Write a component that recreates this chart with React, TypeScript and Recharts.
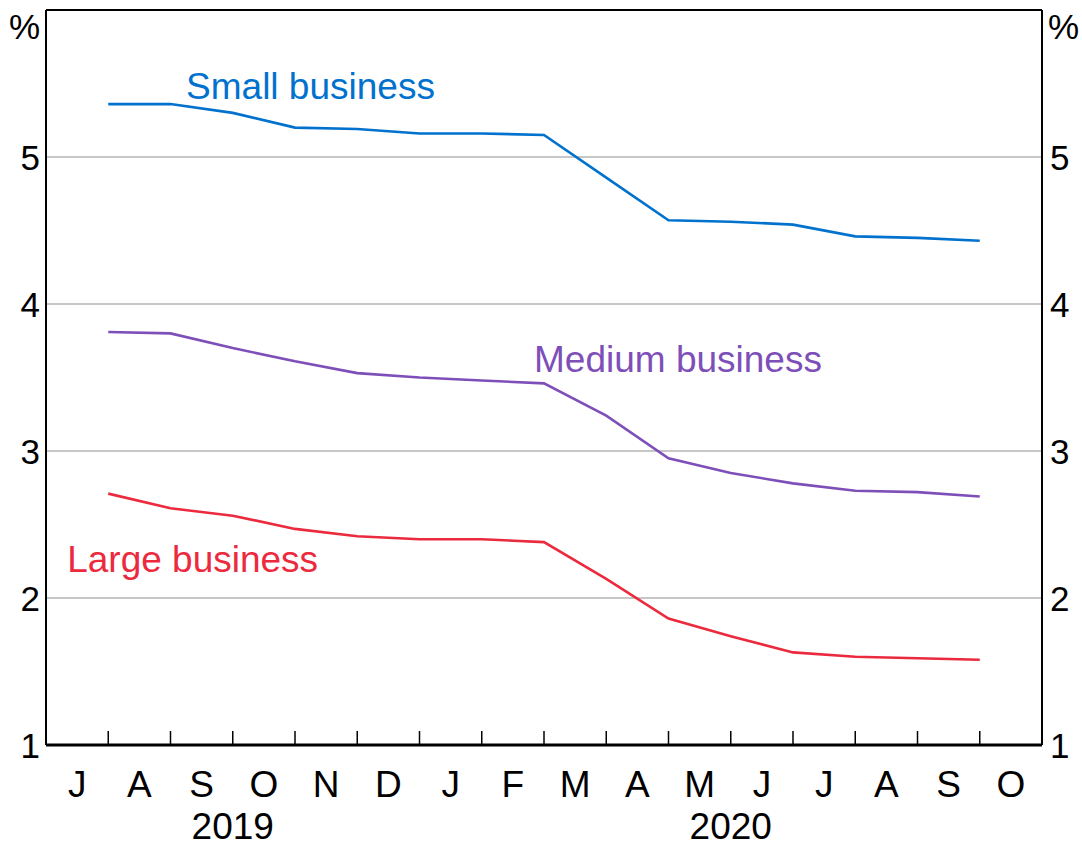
import React from 'react';
import { LineChart, Line, XAxis, YAxis, CartesianGrid, ReferenceLine, ReferenceDot } from 'recharts';

const monthLabels = ['J', 'A', 'S', 'O', 'N', 'D', 'J', 'F', 'M', 'A', 'M', 'J', 'J', 'A', 'S', 'O'];
const yearLabels = ['2019', '2020'];
const yearTickAt = [3, 11];
const pointPositions = [1, 2, 3, 4, 5, 6, 7, 8, 9, 10, 11, 12, 13, 14, 15];
const smallBusiness = [5.36, 5.36, 5.3, 5.2, 5.19, 5.16, 5.16, 5.15, 4.86, 4.57, 4.56, 4.54, 4.46, 4.45, 4.43];
const mediumBusiness = [3.81, 3.8, 3.7, 3.61, 3.53, 3.5, 3.48, 3.46, 3.24, 2.95, 2.85, 2.78, 2.73, 2.72, 2.69];
const largeBusiness = [2.71, 2.61, 2.56, 2.47, 2.42, 2.4, 2.4, 2.38, 2.13, 1.86, 1.74, 1.63, 1.6, 1.59, 1.58];
const yTicks = [1, 2, 3, 4, 5];
const seriesNames = ['Small business', 'Medium business', 'Large business'];
const seriesColors = ['#0072CE', '#7E4FB8', '#EC2A3E'];
const labelAtX = [2.25, 7.84, 0.34];
const labelAtY = [5.395, 3.537, 2.177];

const FONT = '"Liberation Sans", Arial, sans-serif';

const data = pointPositions.map((p, i) => ({
  x: p,
  small: smallBusiness[i],
  medium: mediumBusiness[i],
  large: largeBusiness[i],
}));

const xTickValues: number[] = [];
for (let i = 0; i <= monthLabels.length; i++) {
  xTickValues.push(i);
  if (i < monthLabels.length) xTickValues.push(i + 0.5);
}

const XTick = (props: any) => {
  const { x, y, payload } = props;
  const v = payload.value as number;
  if (Number.isInteger(v)) {
    const yi = yearTickAt.indexOf(v);
    return (
      <g>
        <line x1={x} x2={x} y1={y - 14} y2={y} stroke="#000" strokeWidth={1.5} />
        {yi >= 0 && (
          <text x={x} y={y + 94} textAnchor="middle" fontSize={37} fontFamily={FONT} fill="#000">
            {yearLabels[yi]}
          </text>
        )}
      </g>
    );
  }
  return (
    <text x={x} y={y + 52} textAnchor="middle" fontSize={37} fontFamily={FONT} fill="#000">
      {monthLabels[Math.floor(v)]}
    </text>
  );
};

const YTick = (props: any) => {
  const { x, y, payload, anchor } = props;
  return (
    <text x={x} y={y + 12.5} textAnchor={anchor} fontSize={35} fontFamily={FONT} fill="#000">
      {payload.value}
    </text>
  );
};

const percentLabel = (side: 'left' | 'right') => (props: any) => {
  const vb = props.viewBox;
  const x = side === 'left' ? vb.x + vb.width - 6 : vb.x + 6;
  return (
    <text x={x} y={vb.y + 29} textAnchor={side === 'left' ? 'end' : 'start'} fontSize={35} fontFamily={FONT} fill="#000">
      %
    </text>
  );
};

const seriesLabel = (i: number) => (props: any) => {
  const vb = props.viewBox;
  return (
    <text x={vb.x} y={vb.y} textAnchor="start" fontSize={37} fontFamily={FONT} fill={seriesColors[i]}>
      {seriesNames[i]}
    </text>
  );
};

export default function App() {
  return (
    <div style={{ position: 'absolute', left: 0, top: 0, width: 1082, height: 841, background: '#fff' }}>
      <LineChart width={1082} height={841} data={data} margin={{ top: 10, right: 0, bottom: 0, left: 0 }}>
        <CartesianGrid yAxisId="left" vertical={false} stroke="#b5b5b5" strokeWidth={1.5} />
        <XAxis
          dataKey="x"
          type="number"
          domain={[0, 16]}
          ticks={xTickValues}
          interval={0}
          height={96}
          tickSize={0}
          tickMargin={0}
          tickLine={false}
          axisLine={{ stroke: '#000', strokeWidth: 3 }}
          tick={<XTick />}
        />
        <YAxis
          yAxisId="left"
          orientation="left"
          type="number"
          domain={[1, 6]}
          ticks={yTicks}
          interval={0}
          width={46}
          tickSize={0}
          tickMargin={6}
          tickLine={false}
          axisLine={{ stroke: '#000', strokeWidth: 2 }}
          tick={<YTick anchor="end" />}
          label={{ content: percentLabel('left') }}
        />
        <YAxis
          yAxisId="right"
          orientation="right"
          type="number"
          domain={[1, 6]}
          ticks={yTicks}
          interval={0}
          width={40}
          tickSize={0}
          tickMargin={8}
          tickLine={false}
          axisLine={{ stroke: '#000', strokeWidth: 2 }}
          tick={<YTick anchor="start" />}
          label={{ content: percentLabel('right') }}
        />
        <ReferenceLine yAxisId="left" y={6} stroke="#000" strokeWidth={2} />
        <Line yAxisId="left" type="linear" dataKey="small" stroke={seriesColors[0]} strokeWidth={2.6} dot={false} isAnimationActive={false} />
        <Line yAxisId="left" type="linear" dataKey="medium" stroke={seriesColors[1]} strokeWidth={2.6} dot={false} isAnimationActive={false} />
        <Line yAxisId="right" type="linear" dataKey="large" stroke={seriesColors[2]} strokeWidth={2.6} dot={false} isAnimationActive={false} />
        {seriesNames.map((n, i) => (
          <ReferenceDot
            key={n}
            yAxisId="left"
            x={labelAtX[i]}
            y={labelAtY[i]}
            r={0}
            fill="none"
            stroke="none"
            label={{ content: seriesLabel(i) }}
          />
        ))}
      </LineChart>
    </div>
  );
}
